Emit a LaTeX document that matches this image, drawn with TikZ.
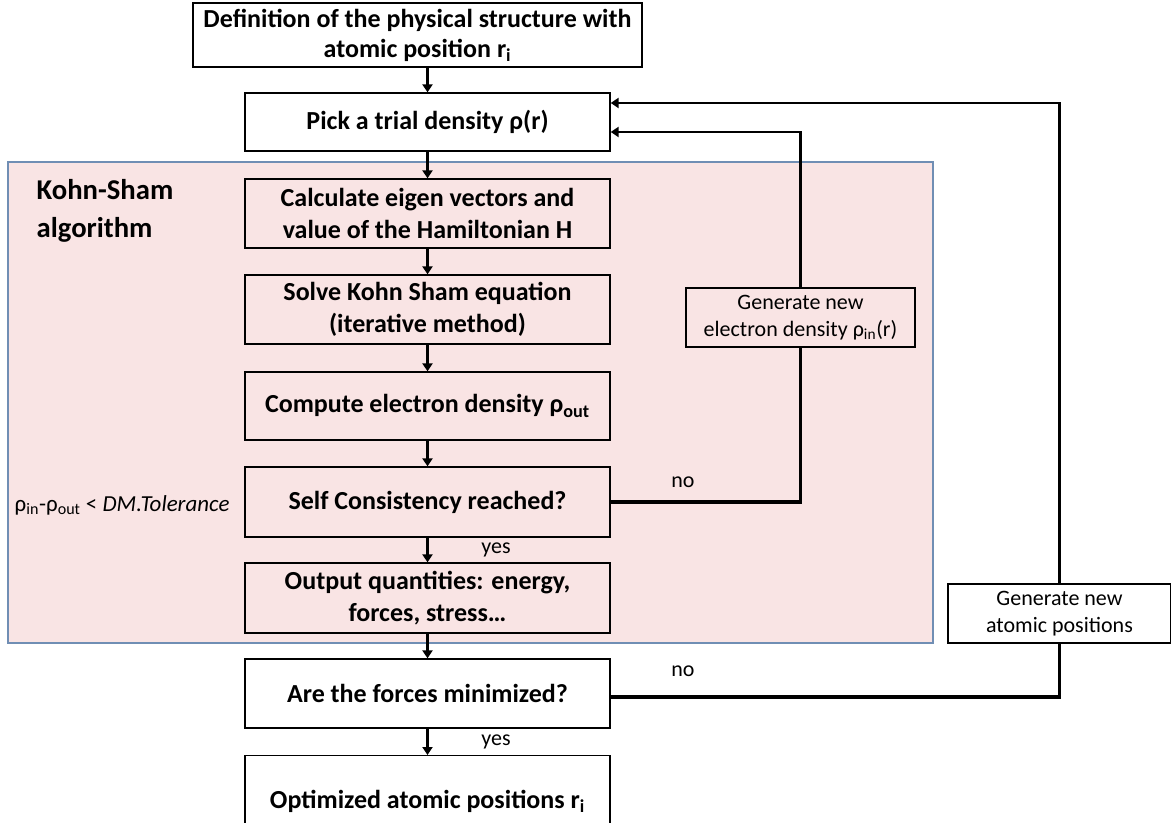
\documentclass[tikz,border=0pt]{standalone}
\usepackage{fontspec}
\setmainfont{Carlito}
\usetikzlibrary{arrows.meta}

\definecolor{kspink}{RGB}{249,228,228}
\definecolor{ksblue}{RGB}{112,142,180}

\begin{document}
\begin{tikzpicture}[x=0.75pt, y=-0.75pt,
    stepbox/.style = {draw, line width=1pt, align=center, font=\fontsize{19.5}{24}\selectfont\bfseries,
                      minimum width=273.75pt, inner sep=0pt},
    sidebox/.style = {draw, line width=1pt, align=center, font=\fontsize{16.5}{20}\selectfont,
                      fill=white, inner sep=0pt},
    flow/.style = {line width=2.2pt, -{Triangle[width=7.5pt,length=6pt]}},
    loop/.style = {line width=2.6pt},
    note/.style = {font=\fontsize{16.5}{20}\selectfont}]
            \useasboundingbox (0,0) rectangle (1171,823);

            % Kohn-Sham panel
            \draw[ksblue, line width=0.9pt, fill=kspink] (8,162) rectangle (933,643);
            \node[align=left, anchor=west, font=\fontsize{21.5}{28}\selectfont\bfseries] (kslabel) at (32,211)
                {Kohn-Sham\\algorithm};
            \node[note, anchor=west, font=\fontsize{17.2}{20}\selectfont] (tol) at (10,505)
                {ρ\textsubscript{in}-ρ\textsubscript{out} < \textit{DM.Tolerance}};

            % main column
            \node[stepbox, fill=white, minimum width=336.75pt, minimum height=48pt,
                  font=\fontsize{19.5}{22.5}\selectfont\bfseries] (struct) at (417.5,35)
                {Definition of the physical structure with\\atomic position r\textsubscript{i}};
            \node[stepbox, fill=white, minimum height=43.5pt] (trial) at (427.5,122) {Pick a trial density ρ(r)};
            \node[stepbox, minimum height=51.75pt] (eigen) at (427.5,213.5)
                {Calculate eigen vectors and\\value of the Hamiltonian H};
            \node[stepbox, minimum height=51.75pt] (solve) at (427.5,309.5)
                {Solve Kohn Sham equation\\(iterative method)};
            \node[stepbox, minimum height=51pt] (dens) at (427.5,406) {Compute electron density ρ\textsubscript{out}};
            \node[stepbox, minimum height=52.5pt] (scf) at (427.5,502) {Self Consistency reached?};
            \node[stepbox, minimum height=52.5pt] (outq) at (427.5,598)
                {Output quantities: energy,\\forces, stress…};
            \node[stepbox, fill=white, minimum height=51.75pt] (force) at (427.5,693.5) {Are the forces minimized?};
            \node[stepbox, fill=white, minimum height=68pt] (optim) at (427.5,801)
                {Optimized atomic positions r\textsubscript{i}};

            % side boxes
            \node[sidebox, fill=kspink, minimum width=171.75pt, minimum height=44.25pt] (newrho) at (800.5,317.5)
                {Generate new\\electron density ρ\textsubscript{in}(r)};
            \node[sidebox, minimum width=167.25pt, minimum height=44.25pt] (newpos) at (1059.5,613.5)
                {Generate new\\atomic positions};

            % arrows down the column
            \draw[flow] (struct.south -| trial.north) -- (trial.north);
            \draw[flow] (trial) -- (eigen);
            \draw[flow] (eigen) -- (solve);
            \draw[flow] (solve) -- (dens);
            \draw[flow] (dens) -- (scf);
            \draw[flow] (scf) -- node[note, right=36pt]{yes} (outq);
            \draw[flow] (outq) -- (force);
            \draw[flow] (force) -- node[note, right=36pt]{yes} (optim);

            % feedback loops
            \draw[loop] (scf.east) -| (newrho.south);
            \draw[loop, flow] (newrho.north) |- ([yshift=-7.5pt]trial.east);
            \draw[loop] ([yshift=-2.6pt]force.east) -| (newpos.south);
            \draw[loop, flow] (newpos.north) |- ([yshift=14.25pt]trial.east);
            \node[note] (no1) at (683,482) {no};
            \node[note] (no2) at (683,671) {no};
\end{tikzpicture}
\end{document}
